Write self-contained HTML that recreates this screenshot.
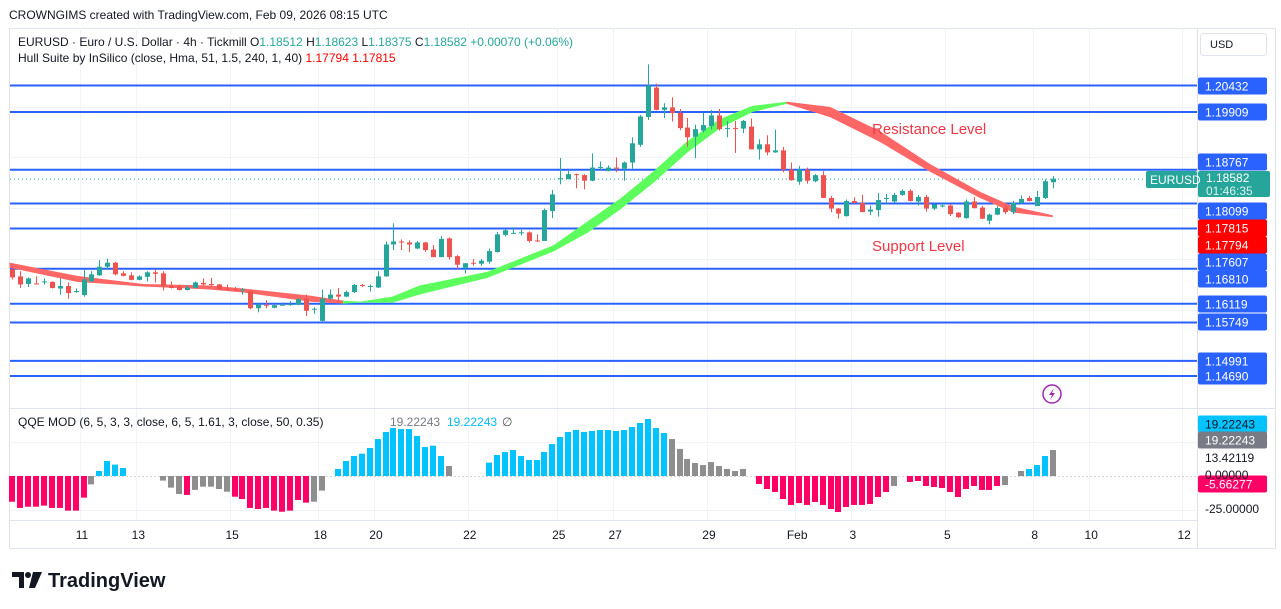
<!DOCTYPE html>
<html><head><meta charset="utf-8"><style>
html,body{margin:0;padding:0;background:#fff;}
svg{display:block;font-family:"Liberation Sans",sans-serif;}
</style></head><body>
<svg id="c" width="1281" height="609" viewBox="0 0 1281 609" xmlns="http://www.w3.org/2000/svg">
<rect x="0" y="0" width="1281" height="609" fill="#fff"/>
<text x="9" y="19" font-size="12" fill="#131722">CROWNGIMS created with TradingView.com, Feb 09, 2026 08:15 UTC</text>
<rect x="9.5" y="28.5" width="1266" height="520" fill="none" stroke="#e0e3eb"/>
<g id="grid"></g>
<g id="levels"></g>
<g id="hull"></g>
<g id="candles"></g>
<g id="hist"></g>
<line x1="1197.5" y1="28" x2="1197.5" y2="548" stroke="#e0e3eb"/>
<line x1="10" y1="408.5" x2="1275" y2="408.5" stroke="#e0e3eb"/>
<line x1="10" y1="520.5" x2="1197" y2="520.5" stroke="#e0e3eb"/>
<g id="axis"></g>
<g id="time"></g>
<text x="18" y="46" font-size="12" fill="#131722">EURUSD · Euro / U.S. Dollar · 4h · Tickmill  O<tspan fill="#26a69a">1.18512</tspan>  H<tspan fill="#26a69a">1.18623</tspan>  L<tspan fill="#26a69a">1.18375</tspan>  C<tspan fill="#26a69a">1.18582</tspan>  <tspan fill="#26a69a">+0.00070 (+0.06%)</tspan></text>
<text x="18" y="62" font-size="12" fill="#131722">Hull Suite by InSilico (close, Hma, 51, 1.5, 240, 1, 40)  <tspan fill="#ff0000">1.17794</tspan>  <tspan fill="#ff0000">1.17815</tspan></text>
<text x="18" y="426" font-size="12" fill="#131722">QQE MOD (6, 5, 3, 3, close, 6, 5, 1.61, 3, close, 50, 0.35)</text>
<text x="390" y="426" font-size="12" fill="#787b86">19.22243</text>
<text x="447" y="426" font-size="12" fill="#00bcf2">19.22243</text>
<text x="502" y="426" font-size="12" fill="#555">∅</text>
<text x="872" y="134" font-size="15" fill="#f23645">Resistance Level</text>
<text x="872" y="251" font-size="15" fill="#f23645">Support Level</text>
<rect x="1200.5" y="33.5" width="66" height="22" rx="3" fill="#fff" stroke="#e0e3eb"/>
<text x="1210" y="48" font-size="11" fill="#131722">USD</text>
<g><circle cx="1052" cy="394" r="9" fill="none" stroke="#9c27b0" stroke-width="1.5"/><path d="M1054 388 L1049 395 L1052 395 L1050 400 L1055 393 L1052 393 Z" fill="#9c27b0"/></g>
<g>
<path d="M12 572 H24 V588 H19 V577 H12 Z" fill="#131722"/><circle cx="28" cy="575" r="3" fill="#131722"/><path d="M33 572 H42 L35 588 H29 Z" fill="#131722"/>
<text x="48" y="587" font-size="20" font-weight="bold" fill="#131722">TradingView</text></g>
</svg>
<script>
// ---- data ----
const opens=[1.1680,1.1666,1.1651,1.1652,1.1654,1.1655,1.1642,1.1647,1.1635,1.1629,
1.1656,1.1668,1.1685,1.1693,1.1672,1.1668,1.1659,1.1665,1.1674,1.1672,
1.1647,1.1646,1.1639,1.1643,1.1653,1.1651,1.1650,1.1642,1.1640,1.1639,
1.1637,1.1603,1.1610,1.1604,1.1609,1.1610,1.1610,1.1622,1.1601,1.1578,
1.1622,1.1630,1.1626,1.1635,1.1649,1.1646,1.1644,1.1666,1.1729,1.1735,
1.1733,1.1721,1.1733,1.1719,1.1704,1.1741,1.1706,1.1683,1.1693,1.1691,
1.1695,1.1714,1.1748,1.1751,1.1752,1.1753,1.1737,1.1736,1.1795,1.1859,
1.1858,1.1868,1.1866,1.1855,1.1881,1.1874,1.1881,1.1879,1.1891,1.1926,
1.1981,1.2039,1.1995,1.2000,1.1989,1.1960,1.1942,1.1954,1.1963,1.1984,
1.1957,1.1959,1.1958,1.1962,1.1917,1.1927,1.1911,1.1915,1.1877,1.1853,
1.1877,1.1854,1.1866,1.1821,1.1800,1.1785,1.1815,1.1811,1.1794,1.1797,
1.1819,1.1814,1.1827,1.1835,1.1814,1.1823,1.1800,1.1804,1.1806,1.1792,
1.1781,1.1814,1.1802,1.1776,1.1788,1.1802,1.1793,1.1811,1.1821,1.1805,
1.1821,1.1852];
const highs=[1.1687,1.1676,1.1664,1.1666,1.1662,1.1656,1.1662,1.1654,1.1642,1.1679,
1.1676,1.1698,1.1701,1.1695,1.1676,1.1674,1.1668,1.1676,1.1680,1.1676,
1.1656,1.1650,1.1649,1.1656,1.1662,1.1663,1.1651,1.1650,1.1645,1.1643,
1.1640,1.1614,1.1619,1.1611,1.1614,1.1617,1.1623,1.1630,1.1605,1.1640,
1.1640,1.1643,1.1638,1.1651,1.1651,1.1650,1.1676,1.1735,1.1771,1.1739,
1.1737,1.1736,1.1734,1.1728,1.1746,1.1743,1.1708,1.1692,1.1700,1.1700,
1.1721,1.1754,1.1759,1.1763,1.1758,1.1755,1.1749,1.1800,1.1837,1.1900,
1.1877,1.1869,1.1868,1.1909,1.1893,1.1885,1.1901,1.1893,1.1941,1.1985,
1.2085,1.2047,1.2008,1.2020,1.1997,1.1979,1.1966,1.1989,1.1995,1.1997,
1.1973,1.1973,1.1975,1.1978,1.1937,1.1945,1.1956,1.1922,1.1891,1.1884,
1.1881,1.1868,1.1874,1.1825,1.1801,1.1818,1.1822,1.1827,1.1806,1.1831,
1.1829,1.1831,1.1838,1.1838,1.1827,1.1827,1.1809,1.1810,1.1809,1.1793,
1.1818,1.1823,1.1805,1.1790,1.1805,1.1808,1.1815,1.1826,1.1825,1.1835,
1.1858,1.1864];
const lows=[1.1660,1.1643,1.1645,1.1651,1.1650,1.1642,1.1630,1.1622,1.1633,1.1626,
1.1655,1.1667,1.1680,1.1668,1.1666,1.1658,1.1658,1.1656,1.1654,1.1638,
1.1642,1.1638,1.1638,1.1642,1.1647,1.1647,1.1639,1.1638,1.1636,1.1630,
1.1601,1.1595,1.1603,1.1603,1.1608,1.1608,1.1609,1.1588,1.1592,1.1577,
1.1619,1.1614,1.1625,1.1633,1.1645,1.1636,1.1643,1.1665,1.1718,1.1718,
1.1714,1.1720,1.1714,1.1704,1.1704,1.1699,1.1680,1.1672,1.1687,1.1687,
1.1691,1.1713,1.1745,1.1750,1.1747,1.1733,1.1734,1.1736,1.1781,1.1848,
1.1858,1.1840,1.1838,1.1854,1.1875,1.1874,1.1872,1.1855,1.1879,1.1922,
1.1975,1.1994,1.1979,1.1972,1.1955,1.1922,1.1900,1.1951,1.1956,1.1954,
1.1941,1.1910,1.1949,1.1917,1.1897,1.1905,1.1910,1.1872,1.1855,1.1847,
1.1849,1.1852,1.1821,1.1793,1.1780,1.1784,1.1810,1.1793,1.1787,1.1784,
1.1809,1.1812,1.1825,1.1814,1.1806,1.1794,1.1797,1.1802,1.1785,1.1781,
1.1780,1.1800,1.1779,1.1769,1.1787,1.1789,1.1789,1.1808,1.1814,1.1805,
1.1819,1.1840];
const closes=[1.1664,1.1650,1.1662,1.1651,1.1656,1.1643,1.1647,1.1633,1.1637,1.1660,
1.1670,1.1685,1.1693,1.1670,1.1667,1.1659,1.1666,1.1674,1.1671,1.1646,
1.1643,1.1639,1.1644,1.1654,1.1650,1.1649,1.1640,1.1640,1.1639,1.1640,
1.1603,1.1610,1.1609,1.1609,1.1610,1.1611,1.1621,1.1598,1.1602,1.1622,
1.1630,1.1626,1.1635,1.1649,1.1647,1.1647,1.1666,1.1729,1.1735,1.1733,
1.1729,1.1733,1.1718,1.1704,1.1740,1.1704,1.1689,1.1692,1.1691,1.1697,
1.1716,1.1749,1.1757,1.1752,1.1753,1.1736,1.1736,1.1797,1.1828,1.1860,
1.1868,1.1867,1.1855,1.1881,1.1882,1.1881,1.1879,1.1891,1.1929,1.1982,
1.2043,1.1995,1.2000,1.1989,1.1959,1.1941,1.1957,1.1965,1.1984,1.1957,
1.1959,1.1957,1.1973,1.1917,1.1927,1.1911,1.1915,1.1877,1.1856,1.1877,
1.1855,1.1866,1.1821,1.1800,1.1790,1.1815,1.1811,1.1793,1.1798,1.1817,
1.1821,1.1827,1.1835,1.1815,1.1823,1.1800,1.1808,1.1806,1.1789,1.1783,
1.1814,1.1801,1.1780,1.1788,1.1801,1.1793,1.1811,1.1819,1.1815,1.1823,
1.1854,1.1859];
const hullIdx=[-0.25,8.2,16.5,24.9,29.1,37.5,41.7,43.8,47.9,51.3,59.8,68.1,72.4,76.5,80.7,84.9,89.1,93.2,97.5,102.9,109.2,115.5,121.8,126,130.9];
const hullA=[1.1692,1.1666,1.1650,1.1647,1.1641,1.1627,1.1617,1.1615,1.1625,1.1647,1.1674,1.1726,1.1773,1.1818,1.1872,1.1931,1.1976,1.2002,1.2010,1.2000,1.1952,1.1887,1.1832,1.1803,1.1786];
const hullB=[1.1684,1.1656,1.1647,1.1641,1.1635,1.1617,1.1613,1.1615,1.1615,1.1631,1.1664,1.1716,1.1753,1.1799,1.1852,1.1911,1.1960,1.1992,1.2008,1.1982,1.1933,1.1874,1.1822,1.1793,1.1784];
const levelPrices=[1.20432,1.19909,1.18767,1.18099,1.17607,1.16810,1.16119,1.15749,1.14991,1.14690];
const qqeValues=[-19.0,-23.6,-22.7,-22.7,-21.9,-23.6,-23.6,-25.6,-25.6,-16.0,-6.2,3.7,11.1,8.4,5.9,null,null,null,null,
-3.4,-8.6,-13.3,-14.0,-10.3,-7.9,-7.9,-9.6,-11.6,-15.3,-17.0,-23.6,-24.4,-23.6,-25.6,-26.4,-25.6,-17.7,-19.7,-19.0,-10.8,null,
5.2,11.1,14.8,16.5,20.7,27.3,32.5,35.5,34.7,34.7,29.6,21.4,22.4,14.8,7.4,null,null,null,null,
9.9,15.5,17.7,19.2,14.8,11.8,11.8,17.7,23.6,28.8,32.5,34.0,32.5,33.3,34.0,34.0,33.3,34.0,36.2,39.2,42.1,35.5,31.8,27.3,
20.0,12.6,9.6,8.1,10.3,7.4,5.2,3.7,5.2,null,
-5.9,-9.6,-11.8,-17.0,-21.4,-20.0,-21.4,-19.2,-21.4,-24.4,-26.6,-22.9,-21.4,-21.4,-20.7,-15.5,-11.8,-7.4,null,
-4.4,-3.7,-7.4,-8.1,-8.9,-11.8,-15.5,-9.6,-7.4,-10.3,-10.3,-7.4,-6.7,null,3.7,5.2,8.1,14.8,19.2];
const qqeColors="pppppppppp"+"gbbbb"+"nnnn"+"gggpgggggppppppppppg"+"n"+"bbbbbbbbbbbbbbb"+"nnnn"+"bbbbbbbbbbbbbbbbbbbbbbbb"+"ggggggggg"+"n"+"pppppppppppppppppp"+"n"+"ppppppppppppp"+"n"+"ggbbb";
const timeLabels=["11","13","15","18","20","22","25","27","29","Feb","3","5","8","10","12"];
const timeIdx=[8.8,15.9,27.7,38.8,45.8,57.6,68.8,75.9,87.7,98.8,105.8,117.7,128.7,135.8,147.5];
const qqeAxisLabels=["13.42119","0.00000","-25.00000"];
const qqeAxisValues=[13.42119,0,-25];
const lastPrice=1.18582;
// ---- scales ----
const NS="http://www.w3.org/2000/svg";
function xOf(i){return 12+i*7.947;}
function yOf(p){return 85.5+(1.20432-p)*5060;}
function qY(v){return 476-v*1.353;}
function mk(tag,attrs,parent){const e=document.createElementNS(NS,tag);for(const k in attrs)e.setAttribute(k,attrs[k]);parent.appendChild(e);return e;}
const G=id=>document.getElementById(id);
const grid=G('grid');
[107,157,208,259,310,361,442,510].forEach(y=>{const l=mk('line',{x1:10,x2:1197,y1:y+.5,y2:y+.5,stroke:'#f0f3fa'},grid);

});
timeIdx.forEach(t=>{const x=Math.round(xOf(t))-1.5;const l=mk('line',{x1:x,x2:x,y1:28,y2:520,stroke:'#f0f3fa'},grid);

});
const lv=G('levels');
levelPrices.forEach(p=>{const l=mk('line',{x1:10,x2:1197,y1:yOf(p),y2:yOf(p),stroke:'#2962ff','stroke-width':2},lv);

});
const dl=mk('line',{x1:10,x2:1197,y1:yOf(lastPrice),y2:yOf(lastPrice),stroke:'#26a69a','stroke-dasharray':'1 3'},lv);


const hull=G('hull');
for(let k=0;k<hullIdx.length-1;k++){
 const m0=(hullA[k]+hullB[k])/2,m1=(hullA[k+1]+hullB[k+1])/2;
 const up=m1>=m0;
 const pts=[[xOf(hullIdx[k]),yOf(hullA[k])],[xOf(hullIdx[k+1]),yOf(hullA[k+1])],[xOf(hullIdx[k+1]),yOf(hullB[k+1])],[xOf(hullIdx[k]),yOf(hullB[k])]];
 const pg=mk('polygon',{points:pts.map(p=>p.join(',')).join(' '),fill:up?'#5cff5c':'#ff6666',stroke:up?'#5cff5c':'#ff6666','stroke-width':1,'stroke-linejoin':'round'},hull);
 
 
}
const cg=G('candles');
for(let i=0;i<opens.length;i++){
 const o=opens[i],c=closes[i],h=highs[i],l=lows[i];const up=c>=o;const col=up?'#26a69a':'#ef5350';const x=xOf(i);
 const w=mk('line',{x1:Math.round(x)+.5,x2:Math.round(x)+.5,y1:yOf(h),y2:yOf(l),stroke:col},cg);
 
 
 const yt=yOf(Math.max(o,c)),yb=yOf(Math.min(o,c));
 const b=mk('rect',{x:Math.round(x)-2,y:yt,width:5,height:Math.max(1,yb-yt),fill:col},cg);
 
 
}
const hg=G('hist');
mk('line',{x1:10,x2:1197,y1:476.5,y2:476.5,stroke:'#d1d4dc','stroke-dasharray':'2 2'},hg);
const colMap={p:'#ff0066',g:'#8e8e8e',b:'#00c3ff'};
for(let i=0;i<qqeValues.length;i++){
 const v=qqeValues[i];if(v===null)continue;
 const y0=qY(0),y1=qY(v);
 const r=mk('rect',{x:Math.round(xOf(i))-3,y:Math.min(y0,y1),width:6,height:Math.abs(y1-y0),fill:colMap[qqeColors[i]]||'#8e8e8e'},hg);
 
 
}
const ax=G('axis');
const labelY={"1.18767":162,"1.18099":211,"1.17607":262,"1.16810":279};
function box(y,txt,fill,tc,name){
 const r=mk('rect',{x:1198,y:y-8.5,width:69,height:17,rx:2,fill:fill},ax);
 
 
 const t=mk('text',{x:1205,y:y+4.5,'font-size':12,fill:tc},ax);t.textContent=txt;
 
 
}
levelPrices.forEach(p=>{const s=p.toFixed(5);const y=labelY[s]!==undefined?labelY[s]:Math.round(yOf(p));box(y,s,'#2962ff','#fff','price-label');});
box(228,'1.17815','#ff0000','#fff','hull-label');
box(245,'1.17794','#ff0000','#fff','hull-label');
const cp=mk('rect',{x:1198,y:171,width:72,height:26,rx:2,fill:'#26a69a'},ax);


let t=mk('text',{x:1206,y:182,'font-size':12,fill:'#fff'},ax);t.textContent=lastPrice.toFixed(5);


t=mk('text',{x:1206,y:195,'font-size':12,fill:'#e0f2f1'},ax);t.textContent='01:46:35';


const sb=mk('rect',{x:1146,y:171,width:51,height:17,rx:2,fill:'#26a69a'},ax);


t=mk('text',{x:1150,y:184,'font-size':12,fill:'#fff'},ax);t.textContent='EURUSD';


box(424,'19.22243','#00c3ff','#131722','qqe-label-blue');
box(440,'19.22243','#787b86','#fff','qqe-label-grey');
box(484,'-5.66277','#ff0066','#fff','qqe-label-pink');
const qLY=[458,475,509];
qqeAxisLabels.forEach((s,k)=>{const tt=mk('text',{x:1205,y:qLY[k]+4,'font-size':12,fill:'#131722'},ax);tt.textContent=s;

});
const tg=G('time');
timeLabels.forEach((s,k)=>{const tt=mk('text',{x:xOf(timeIdx[k]),y:539,'font-size':12,fill:'#131722','text-anchor':'middle'},tg);tt.textContent=s;

});
</script>
</body></html>
